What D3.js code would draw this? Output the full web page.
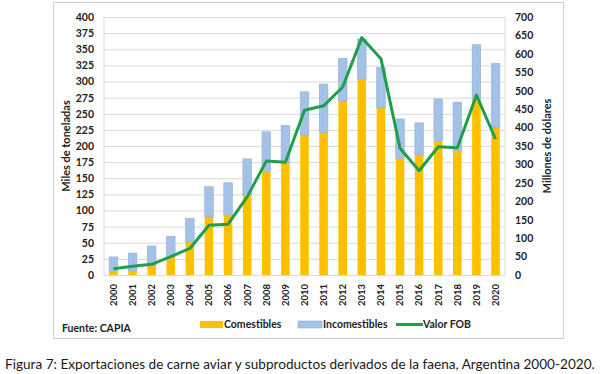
<!DOCTYPE html>
<html>
<head>
<meta charset="utf-8">
<script src="https://cdn.jsdelivr.net/npm/d3@7"></script>
<style>
  body { margin: 0; background: #fff; }
  text { font-family: Lato, "Open Sans", sans-serif; }
</style>
</head>
<body>
<svg width="600" height="374"></svg>
<script>
// datos
const years = ['2000','2001','2002','2003','2004','2005','2006','2007','2008','2009','2010',
  '2011','2012','2013','2014','2015','2016','2017','2018','2019','2020'];
const comestibles = [5,6,14,28,51,90,92,123,160,173,216,221,270,303,259,181,185,207,193,272,228];
const incomestibles = [23,28,31,32,37,47,51,57,62,59,68,75,66,63,63,61,51,66,75,85,100];
const valorFOB = [17,24,29,50,72,135,138,212,309,306,447,459,510,644,587,344,283,348,345,488,369];
const leftTicks = d3.range(0, 401, 25);
const rightTicks = d3.range(0, 701, 50);

const svg = d3.select('svg');
const margin = {top: 17, left: 104, right: 95, bottom: 99};
const width = +svg.attr('width');
const height = +svg.attr('height');
const innerWidth = width - margin.left - margin.right;
const innerHeight = height - margin.top - margin.bottom;

const data = years.map((y, i) => ({year: y, com: comestibles[i], inc: incomestibles[i], fob: valorFOB[i]}));

// marco
svg.append('rect')
  .attr('x', 53.5).attr('y', 2.5)
  .attr('width', 510).attr('height', 336)
  .attr('fill', 'none').attr('stroke', '#d0d0d0');

const xScale = d3.scaleBand().domain(years).range([0, innerWidth]).paddingInner(0.55).paddingOuter(0.27);
const yScale = d3.scaleLinear().domain([0, 400]).range([innerHeight, 0]);
const y2Scale = d3.scaleLinear().domain([0, 700]).range([innerHeight, 0]);

const g = svg.append('g').attr('transform', `translate(${margin.left}, ${margin.top})`);

// grilla
g.append('g')
  .call(d3.axisLeft(yScale).tickValues(leftTicks).tickSize(-innerWidth).tickFormat(''))
  .call(s => s.select('.domain').remove())
  .selectAll('line').attr('stroke', '#d9d9d9');
g.append('line').attr('x1', 0).attr('x2', 0).attr('y1', 0).attr('y2', innerHeight).attr('stroke', '#d9d9d9');
g.append('line').attr('x1', innerWidth).attr('x2', innerWidth).attr('y1', 0).attr('y2', innerHeight).attr('stroke', '#d9d9d9');

// eje izquierdo
g.append('g')
  .call(d3.axisLeft(yScale).tickValues(leftTicks).tickSize(0).tickPadding(10))
  .call(s => s.select('.domain').remove())
  .selectAll('text')
    .attr('font-size', 10.5).attr('font-weight', 'bold').attr('fill', '#222');

// eje derecho
g.append('g')
  .attr('transform', `translate(${innerWidth}, 0)`)
  .call(d3.axisRight(y2Scale).tickValues(rightTicks).tickSize(0).tickPadding(10))
  .call(s => s.select('.domain').remove())
  .selectAll('text')
    .attr('font-size', 10.5).attr('font-weight', 'bold').attr('fill', '#222');

// eje x
g.append('g')
  .attr('transform', `translate(0, ${innerHeight})`)
  .call(d3.axisBottom(xScale).tickSize(0))
  .call(s => s.select('.domain').remove())
  .selectAll('text')
    .attr('font-size', 9.5).attr('font-weight', 'bold').attr('fill', '#222')
    .attr('transform', 'rotate(-90)')
    .attr('text-anchor', 'end')
    .attr('x', -9).attr('y', 0).attr('dy', '0.35em');

// barras
g.selectAll('rect.com').data(data)
  .enter().append('rect')
    .attr('class', 'com')
    .attr('x', d => xScale(d.year))
    .attr('y', d => yScale(d.com))
    .attr('width', xScale.bandwidth())
    .attr('height', d => innerHeight - yScale(d.com))
    .attr('fill', '#ffc000');

g.selectAll('rect.inc').data(data)
  .enter().append('rect')
    .attr('class', 'inc')
    .attr('x', d => xScale(d.year))
    .attr('y', d => yScale(d.com + d.inc))
    .attr('width', xScale.bandwidth())
    .attr('height', d => yScale(d.com) - yScale(d.com + d.inc))
    .attr('fill', '#a4c2e6')
    .attr('stroke', '#8eb0da').attr('stroke-width', 0.6);

// linea valor FOB
const line = d3.line()
  .x(d => xScale(d.year) + xScale.bandwidth() / 2)
  .y(d => y2Scale(d.fob));
g.append('path').datum(data)
  .attr('d', line)
  .attr('fill', 'none')
  .attr('stroke', '#1f9e4b')
  .attr('stroke-width', 3)
  .attr('stroke-linejoin', 'round');

// titulos de ejes
svg.append('text')
  .attr('transform', `translate(70, ${margin.top + innerHeight / 2}) rotate(-90)`)
  .attr('text-anchor', 'middle')
  .attr('font-size', 11).attr('font-weight', 'bold').attr('fill', '#222')
  .text('Miles de toneladas');
svg.append('text')
  .attr('transform', `translate(551, ${margin.top + innerHeight / 2}) rotate(-90)`)
  .attr('text-anchor', 'middle')
  .attr('font-size', 11).attr('font-weight', 'bold').attr('fill', '#222')
  .text('Millones de dólares');

// leyenda
svg.append('text').attr('x', 62).attr('y', 332)
  .attr('font-size', 10.5).attr('font-weight', 'bold').attr('fill', '#222')
  .text('Fuente: CAPIA');

const legend = svg.append('g');
legend.append('rect').attr('x', 200).attr('y', 321).attr('width', 23).attr('height', 7).attr('fill', '#ffc000');
legend.append('text').attr('x', 224).attr('y', 327.5)
  .attr('font-size', 10.5).attr('font-weight', 'bold').attr('fill', '#222').text('Comestibles');
legend.append('rect').attr('x', 298).attr('y', 321).attr('width', 24).attr('height', 7)
  .attr('fill', '#a4c2e6').attr('stroke', '#8eb0da').attr('stroke-width', 0.6);
legend.append('text').attr('x', 323).attr('y', 327.5)
  .attr('font-size', 10.5).attr('font-weight', 'bold').attr('fill', '#222').text('Incomestibles');
legend.append('line').attr('x1', 396).attr('x2', 423).attr('y1', 324.5).attr('y2', 324.5)
  .attr('stroke', '#1f9e4b').attr('stroke-width', 3);
legend.append('text').attr('x', 423).attr('y', 327.5)
  .attr('font-size', 10.5).attr('font-weight', 'bold').attr('fill', '#222').text('Valor FOB');

// pie de figura
svg.append('text').attr('x', 5).attr('y', 369)
  .attr('font-size', 13.6).attr('fill', '#1a1a1a')
  .text('Figura 7: Exportaciones de carne aviar y subproductos derivados de la faena, Argentina 2000-2020.');
</script>
</body>
</html>
